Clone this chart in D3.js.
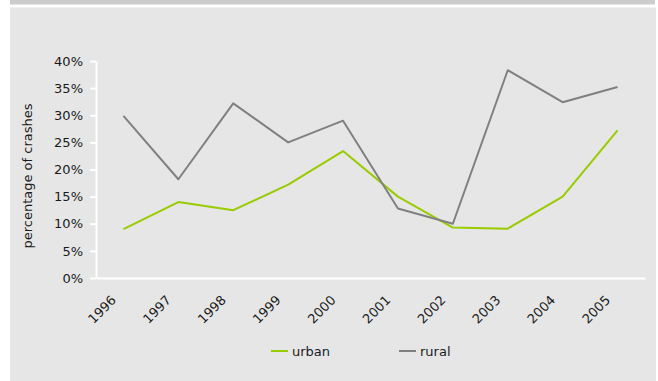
<!DOCTYPE html>
<html>
<head>
<meta charset="utf-8">
<script src="https://cdn.jsdelivr.net/npm/d3@7"></script>
<style>
  body { margin: 0; background: #fff; }
  svg { display: block; font-family: "DejaVu Sans", Verdana, sans-serif; }
</style>
</head>
<body>
<svg id="chart"></svg>
<script>
const years = ['1996','1997','1998','1999','2000','2001','2002','2003','2004','2005'];
const urban = [9.0, 14.0, 12.5, 17.2, 23.4, 15.0, 9.3, 9.1, 15.0, 27.2];
const rural = [29.9, 18.2, 32.2, 25.0, 29.0, 12.8, 10.0, 38.3, 32.4, 35.2];
const yTicks = [0, 5, 10, 15, 20, 25, 30, 35, 40];

const width = 658, height = 381;
const margin = {top: 61, right: 13, bottom: 103, left: 96};
const font = '"DejaVu Sans", Verdana, sans-serif';

const svg = d3.select('#chart')
    .attr('width', width)
    .attr('height', height);

// backgrounds
svg.append('rect')
    .attr('x', 10).attr('y', 0)
    .attr('width', 645).attr('height', 4.5)
    .attr('fill', '#cccccc');
svg.append('rect')
    .attr('x', 10).attr('y', 7.5)
    .attr('width', 646).attr('height', height - 7.5)
    .attr('fill', '#e6e6e6');

const inner_width = width - margin.left - margin.right;
const inner_height = height - margin.top - margin.bottom;

const chart = svg.append('g')
    .attr('transform', `translate(${margin.left}, ${margin.top})`);

const xscale = d3.scaleBand()
    .domain(years)
    .range([0, inner_width]);

const yscale = d3.scaleLinear()
    .domain([0, 40])
    .range([inner_height, 0]);

// y axis
const yaxis = d3.axisLeft(yscale)
    .tickValues(yTicks)
    .tickFormat(d => d + '%')
    .tickSize(6)
    .tickPadding(7)
    .tickSizeOuter(0);

const yaxis_group = chart.append('g').call(yaxis);
yaxis_group.select('.domain').attr('stroke', '#fff').attr('stroke-width', 2);
yaxis_group.selectAll('.tick line').attr('stroke', '#fff').attr('stroke-width', 2);
yaxis_group.selectAll('.tick text')
    .attr('fill', '#1a1a1a')
    .style('font-size', '13px')
    .style('font-family', font);

// x axis
const xaxis = d3.axisBottom(xscale)
    .tickSize(0)
    .tickSizeOuter(0)
    .tickPadding(0);

const xaxis_group = chart.append('g')
    .attr('transform', `translate(0, ${inner_height})`)
    .call(xaxis);
xaxis_group.select('.domain').attr('stroke', '#fff').attr('stroke-width', 2);
xaxis_group.selectAll('.tick text')
    .attr('fill', '#1a1a1a')
    .style('font-size', '13px')
    .style('font-family', font)
    .attr('text-anchor', 'end')
    .attr('dy', 0)
    .attr('transform', 'translate(-6.5, 23) rotate(-45)');

// lines
const line = d3.line()
    .x((d, i) => xscale(years[i]) + xscale.bandwidth() / 2)
    .y(d => yscale(d));

const series = [
    {name: 'urban', values: urban, color: '#99cc00'},
    {name: 'rural', values: rural, color: '#808080'}
];

chart.selectAll('path.series')
    .data(series)
    .join('path')
    .attr('class', 'series')
    .attr('fill', 'none')
    .attr('stroke', d => d.color)
    .attr('stroke-width', 2)
    .attr('stroke-linejoin', 'round')
    .attr('d', d => line(d.values));

// y label
svg.append('text')
    .attr('transform', 'translate(31.5, 176) rotate(-90)')
    .attr('text-anchor', 'middle')
    .style('font-size', '13px')
    .attr('fill', '#1a1a1a')
    .text('percentage of crashes');

// legend
const legend = svg.append('g');
const legend_x = [271, 399];
series.forEach((s, i) => {
    const g = legend.append('g')
        .attr('transform', `translate(${legend_x[i]}, 351)`);
    g.append('line')
        .attr('x1', 0).attr('x2', 17)
        .attr('stroke', s.color)
        .attr('stroke-width', 2);
    g.append('text')
        .attr('x', 21)
        .attr('y', 5)
        .style('font-size', '13px')
        .attr('fill', '#1a1a1a')
        .text(s.name);
});
</script>
</body>
</html>
